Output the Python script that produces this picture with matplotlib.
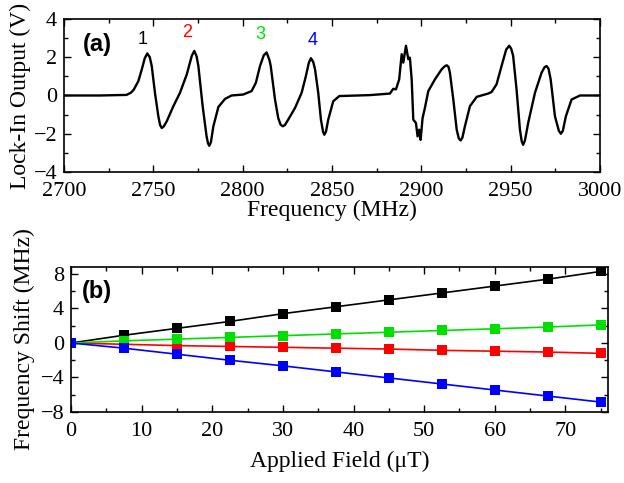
import matplotlib
matplotlib.use("Agg")
import matplotlib.pyplot as plt
from matplotlib.ticker import MultipleLocator

# (a) lock-in spectrum
freq = [2700, 2720, 2735, 2737.5, 2739, 2741.6, 2743.5, 2745.2, 2746.6, 2748, 2749.1,
        2750.9, 2752.8, 2753.8, 2754.7, 2755.8, 2757.5, 2761.2, 2764.9, 2768.7, 2771.5,
        2772.9, 2774.2, 2775.2, 2777.6, 2779.8, 2780.6, 2781.3, 2782.2, 2783.6,
        2786.4, 2790.1, 2793.8, 2800.3, 2805, 2807.4, 2809.7, 2811.8, 2813.4, 2815,
        2815.7, 2818.1, 2819.9, 2821.2, 2822.4, 2823.6, 2825.5, 2829.3, 2833, 2835.4,
        2837, 2838.2, 2839.5, 2840.5, 2842.3, 2843.8, 2845, 2845.7, 2846.6, 2847.9,
        2850.7, 2854.1, 2871.2, 2882.4, 2884.3, 2885.8, 2887.6, 2889, 2889.9, 2891.4,
        2892.7, 2893.6, 2894.6, 2895.5, 2897, 2897.9, 2898.8, 2899.6, 2900.7, 2902,
        2903.9, 2907.6, 2911.4, 2913, 2914.2, 2915.2, 2916, 2917.9, 2919.8, 2921,
        2922, 2923, 2924.4, 2927.2, 2931, 2937.4, 2939.3, 2942.1, 2944.9, 2947.5,
        2949.2, 2950.3, 2951.4, 2953.3, 2955.2, 2956.2, 2957, 2958, 2959.8, 2963.6,
        2967.3, 2969, 2970.1, 2971.2, 2972.4, 2974.8, 2977, 2978.1, 2979.2, 2980.9,
        2984.1, 2988.8, 3000]
volt = [0, 0, 0.03, 0.15, 0.3, 0.75, 1.35, 1.95, 2.2, 2.0, 1.54,
        0.14, -1.09, -1.55, -1.7, -1.62, -1.35, -0.56, 0.14, 1.1, 2.07,
        2.33, 2.05, 1.54, -0.56, -2.14, -2.5, -2.63, -2.45, -1.61,
        -0.6, -0.18, 0, 0.05, 0.23, 0.67, 1.54, 2.1, 2.25, 1.85,
        1.54, -0.21, -1.18, -1.52, -1.61, -1.55, -1.26, -0.65, 0.14, 1.02,
        1.7, 1.95, 1.75, 1.37, 0.14, -1.26, -1.9, -2.05, -1.9, -1.26,
        -0.3, -0.03, 0.02, 0.1, 0.35, 0.32, 0.84, 2.16, 1.72, 2.6,
        1.9, 1.98, 0.84, -1.26, -1.44, -2.14, -1.79, -2.32, -1.18, -0.65,
        0.23, 0.84, 1.37, 1.52, 1.58, 1.5, 1.19, -0.21, -1.79, -2.25,
        -2.35, -2.2, -1.61, -0.56, -0.07, 0.1, 0.18, 0.58, 1.54, 2.4,
        2.6, 2.45, 2.07, 0.32, -1.79, -2.4, -2.58, -2.35, -1.44, 0.14,
        1.19, 1.48, 1.54, 1.4, 0.84, -1.09, -1.85, -2.0, -1.85, -1.09,
        -0.21, 0, 0]

peak_labels = ["1", "2", "3", "4"]
peak_colors = ["black", "red", "#00e000", "blue"]
peak_x = [2744, 2769, 2810, 2839]
peak_y = [2.95, 3.3, 3.2, 2.85]

# (b) frequency shift vs applied field
field = [0, 7.5, 15, 22.5, 30, 37.5, 45, 52.5, 60, 67.5, 75]
shift_1 = [0, 0.9, 1.7, 2.5, 3.4, 4.2, 5.0, 5.8, 6.6, 7.4, 8.3]
shift_2 = [0, -0.15, -0.3, -0.4, -0.5, -0.6, -0.7, -0.85, -0.95, -1.05, -1.2]
shift_3 = [0, 0.25, 0.45, 0.65, 0.85, 1.05, 1.25, 1.45, 1.65, 1.85, 2.1]
shift_4 = [0, -0.6, -1.3, -2.0, -2.65, -3.35, -4.05, -4.75, -5.45, -6.15, -6.85]

plt.rcParams['font.family'] = ['Liberation Serif', 'DejaVu Serif']

fig = plt.figure(figsize=(6.24, 4.83), dpi=100)
ax1 = fig.add_axes([0.1026, 0.6439, 0.8589, 0.3168])
ax2 = fig.add_axes([0.1138, 0.147, 0.8602, 0.300])


def style(ax):
    ax.tick_params(which='both', direction='in', top=True, right=True, labelsize=16)
    ax.tick_params(which='major', length=5, width=1)
    ax.tick_params(which='minor', length=3, width=1)
    ax.tick_params(axis='x', which='major', pad=7)
    ax.tick_params(axis='y', which='major', pad=5)
    for s in ax.spines.values():
        s.set_linewidth(1.2)


ax1.plot(freq, volt, color='black', lw=1.7)
ax1.set_xlim(2700, 3000)
ax1.set_ylim(-4, 4)
ax1.xaxis.set_major_locator(MultipleLocator(50))
ax1.xaxis.set_minor_locator(MultipleLocator(25))
ax1.yaxis.set_major_locator(MultipleLocator(2))
ax1.yaxis.set_minor_locator(MultipleLocator(1))
style(ax1)
ax1.set_xlabel('Frequency (MHz)', fontsize=17, labelpad=-1)
ax1.set_ylabel('Lock-In Output (V)', fontsize=17, labelpad=2)
for t, c, x, y in zip(peak_labels, peak_colors, peak_x, peak_y):
    ax1.text(x, y, t, color=c, fontsize=13, family='Liberation Sans', ha='center', va='center')
ax1.text(0.062, 0.83, '(a)', transform=ax1.transAxes, fontsize=17, fontweight='bold',
         family='Liberation Sans', ha='center', va='center')

for s, c in zip([shift_1, shift_2, shift_3, shift_4], peak_colors):
    ax2.plot(field, s, color=c, lw=1.2, marker='s', markersize=7, markeredgewidth=0)
ax2.set_xlim(0, 76)
ax2.set_ylim(-8, 8.8)
ax2.xaxis.set_major_locator(MultipleLocator(10))
ax2.xaxis.set_minor_locator(MultipleLocator(5))
ax2.yaxis.set_major_locator(MultipleLocator(4))
ax2.yaxis.set_minor_locator(MultipleLocator(2))
style(ax2)
ax2.set_xlabel('Applied Field (μT)', fontsize=17, labelpad=7)
ax2.set_ylabel('Frequency Shift (MHz)', fontsize=17, labelpad=4)
ax2.text(0.049, 0.83, '(b)', transform=ax2.transAxes, fontsize=17, fontweight='bold',
         family='Liberation Sans', ha='center', va='center')

fig.savefig('out.png', dpi=100)
